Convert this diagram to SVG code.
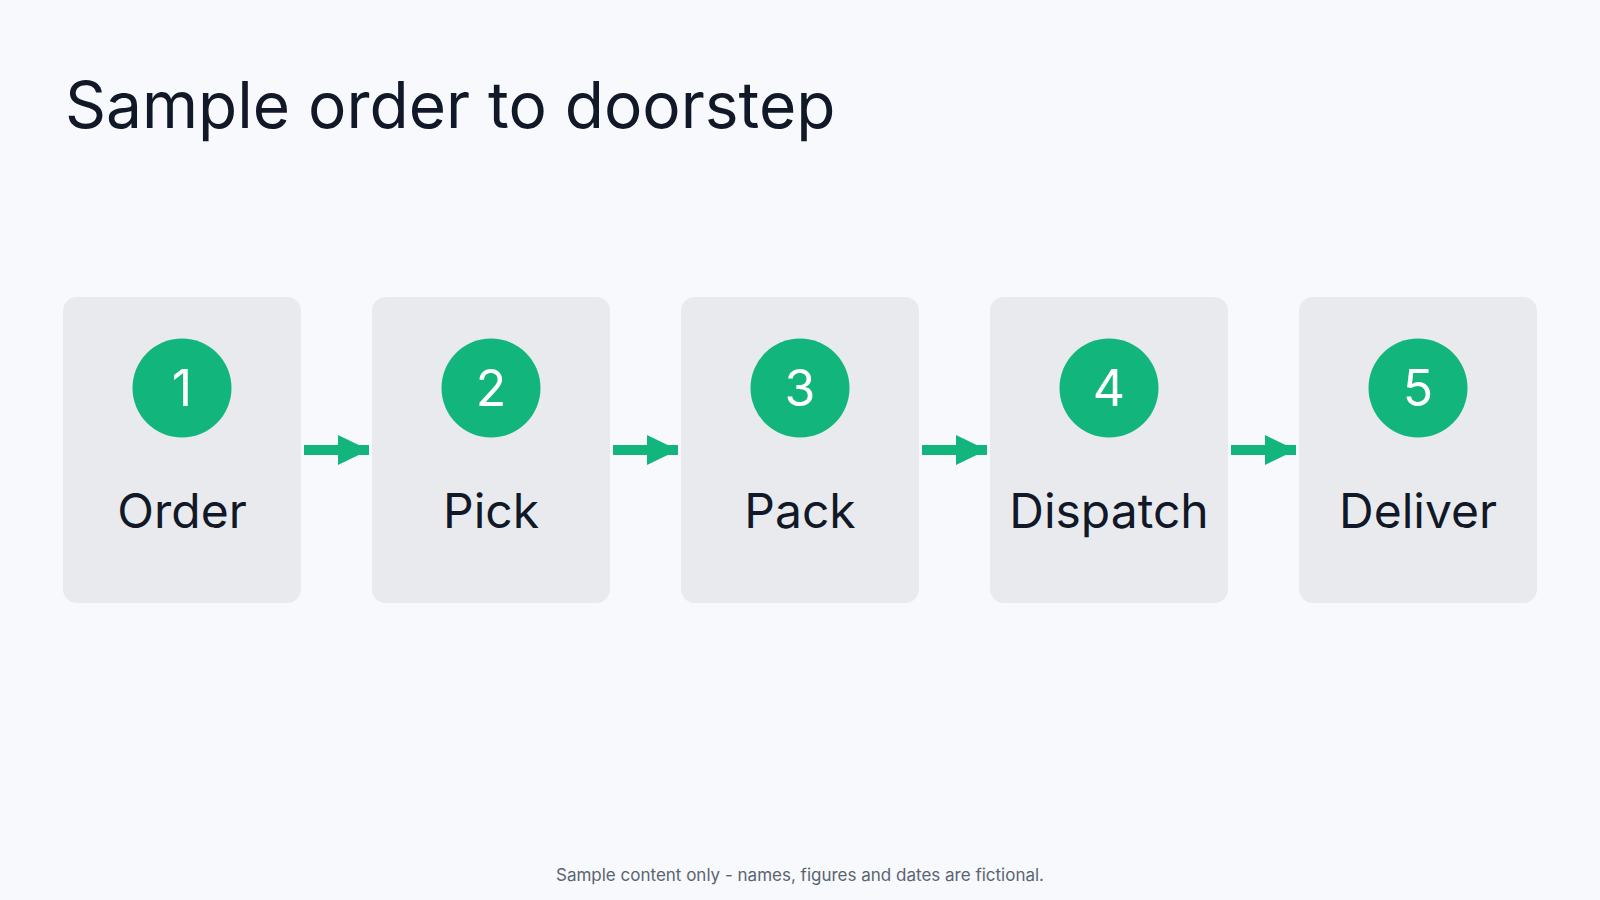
<svg xmlns="http://www.w3.org/2000/svg" width="1600" height="900" viewBox="0 0 1600 900">
<style>
.box{fill:#e9eaed}
.c{fill:#12b67d}
.n{font-family:Inter,"Liberation Sans",sans-serif;font-size:50px;fill:#fff;text-anchor:middle}
.l{font-family:Inter,"Liberation Sans",sans-serif;font-size:48px;fill:#111827;text-anchor:middle}
.a{stroke:#12b67d;stroke-width:10;fill:none}
</style>
<defs><marker id="h" markerUnits="userSpaceOnUse" markerWidth="32" markerHeight="32" refX="31" refY="16" orient="auto"><path d="M0,1 L31,16 L0,31 Z" fill="#12b67d"/></marker></defs>
<rect width="1600" height="900" fill="#f7f9fc"/>
<text x="65" y="128" font-family="Inter,'Liberation Sans',sans-serif" font-size="64" fill="#111827">Sample order to doorstep</text>
<g id="n1"><rect class="box" x="63" y="297" width="238" height="306" rx="14"/><circle class="c" cx="182" cy="388" r="49.5"/><text class="n" x="182" y="406">1</text><text class="l" x="182" y="528">Order</text></g>
<g id="n2"><rect class="box" x="372" y="297" width="238" height="306" rx="14"/><circle class="c" cx="491" cy="388" r="49.5"/><text class="n" x="491" y="406">2</text><text class="l" x="491" y="528">Pick</text></g>
<g id="n3"><rect class="box" x="681" y="297" width="238" height="306" rx="14"/><circle class="c" cx="800" cy="388" r="49.5"/><text class="n" x="800" y="406">3</text><text class="l" x="800" y="528">Pack</text></g>
<g id="n4"><rect class="box" x="990" y="297" width="238" height="306" rx="14"/><circle class="c" cx="1109" cy="388" r="49.5"/><text class="n" x="1109" y="406">4</text><text class="l" x="1109" y="528">Dispatch</text></g>
<g id="n5"><rect class="box" x="1299" y="297" width="238" height="306" rx="14"/><circle class="c" cx="1418" cy="388" r="49.5"/><text class="n" x="1418" y="406">5</text><text class="l" x="1418" y="528">Deliver</text></g>
<g id="connectors">
<path class="a" d="M304,450 H369" marker-end="url(#h)"/>
<path class="a" d="M613,450 H678" marker-end="url(#h)"/>
<path class="a" d="M922,450 H987" marker-end="url(#h)"/>
<path class="a" d="M1231,450 H1296" marker-end="url(#h)"/>
</g>
<text x="800" y="881" font-family="Inter,'Liberation Sans',sans-serif" font-size="17" fill="#5b6472" text-anchor="middle">Sample content only - names, figures and dates are fictional.</text>
</svg>
